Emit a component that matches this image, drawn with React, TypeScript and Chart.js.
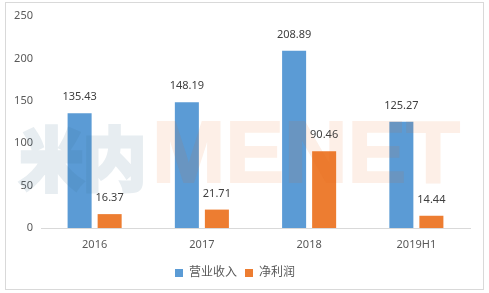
import React, { useEffect, useRef } from "react";
import { Chart, registerables } from "chart.js";

Chart.register(...registerables);

const categories = ["2016", "2017", "2018", "2019H1"];
const revenue = [135.43, 148.19, 208.89, 125.27];
const netProfit = [16.37, 21.71, 90.46, 14.44];
const seriesNames = ["营业收入", "净利润"];
const yMin = 0;
const yMax = 250;
const yStep = 50;

const FONT = "'Noto Sans', 'Noto Sans CJK SC', sans-serif";

const borderPlugin = {
  id: "outerBorder",
  beforeDraw(chart: any) {
    const ctx = chart.ctx;
    ctx.save();
    ctx.fillStyle = "#ffffff";
    ctx.fillRect(0, 0, chart.width, chart.height);
    ctx.strokeStyle = "#d9d9d9";
    ctx.lineWidth = 1;
    ctx.strokeRect(5.5, 2.5, chart.width - 11, chart.height - 6);
    ctx.restore();
  },
};

function drawWatermark(ctx: CanvasRenderingContext2D, w: number, h: number) {
  const off = document.createElement("canvas");
  off.width = w;
  off.height = h;
  const o = off.getContext("2d");
  if (!o) return;
  const baseY = 182;
  o.textBaseline = "alphabetic";
  o.textAlign = "left";
  o.font = `bold 68px 'Noto Sans CJK SC', sans-serif`;
  o.fillStyle = "rgb(60,110,140)";
  o.strokeStyle = "rgb(60,110,140)";
  o.lineWidth = 5;
  o.lineJoin = "miter";
  o.fillText("米内", 20, baseY + 3, 126);
  o.strokeText("米内", 20, baseY + 3, 126);
  o.font = `bold 88px 'Liberation Sans', Arial, sans-serif`;
  o.fillStyle = "rgb(230,100,20)";
  o.strokeStyle = "rgb(230,100,20)";
  o.lineWidth = 2;
  o.fillText("MENET", 152, baseY, 311);
  o.strokeText("MENET", 152, baseY, 311);
  // blue part and orange part with their own alpha
  ctx.save();
  ctx.globalAlpha = 0.12;
  ctx.drawImage(off, 0, 0, 150, h, 0, 0, 150, h);
  ctx.globalAlpha = 0.1;
  ctx.drawImage(off, 150, 0, w - 150, h, 150, 0, w - 150, h);
  ctx.restore();
}

const overlayPlugin = {
  id: "overlay",
  afterDatasetsDraw(chart: any) {
    const ctx = chart.ctx;
    drawWatermark(ctx, chart.width, chart.height);
    ctx.save();
    ctx.font = `11px ${FONT}`;
    ctx.fillStyle = "#404040";
    ctx.textAlign = "center";
    ctx.textBaseline = "middle";
    chart.data.datasets.forEach((ds: any, i: number) => {
      const meta = chart.getDatasetMeta(i);
      meta.data.forEach((el: any, j: number) => {
        const v = ds.data[j] as number;
        ctx.fillText(v.toFixed(2), el.x, el.y - 16);
      });
    });
    ctx.restore();
  },
};

export default function App() {
  const ref = useRef<HTMLCanvasElement | null>(null);
  useEffect(() => {
    if (!ref.current) return;
    const chart = new Chart(ref.current, {
      type: "bar",
      data: {
        labels: categories,
        datasets: [
          {
            label: seriesNames[0],
            data: revenue,
            backgroundColor: "#5b9bd5",
            categoryPercentage: 0.56,
            barPercentage: 0.8,
          },
          {
            label: seriesNames[1],
            data: netProfit,
            backgroundColor: "#ed7d31",
            categoryPercentage: 0.56,
            barPercentage: 0.8,
          },
        ],
      },
      options: {
        responsive: false,
        animation: false,
        layout: { padding: { left: 0, right: 19, top: 16, bottom: 4 } },
        plugins: {
          tooltip: { enabled: false },
          legend: {
            position: "bottom",
            labels: {
              boxWidth: 8,
              boxHeight: 8,
              padding: 8,
              color: "#595959",
              font: { family: FONT, size: 12 },
            },
          },
        },
        scales: {
          x: {
            grid: { display: false, drawTicks: false },
            border: { display: true, color: "#d9d9d9", width: 1 },
            ticks: { color: "#595959", font: { family: FONT, size: 11 }, padding: 10 },
            afterFit(scale: any) {
              scale.height = 31;
            },
          },
          y: {
            min: yMin,
            max: yMax,
            grid: { display: false, drawTicks: false },
            border: { display: false },
            ticks: {
              stepSize: yStep,
              color: "#595959",
              font: { family: FONT, size: 11 },
              padding: 8,
            },
            afterFit(scale: any) {
              scale.width = 41;
            },
          },
        },
      },
      plugins: [borderPlugin, overlayPlugin],
    });
    return () => chart.destroy();
  }, []);
  return (
    <div style={{ position: "fixed", left: 0, top: 0, width: 489, height: 293 }}>
      <canvas ref={ref} width={489} height={293} style={{ display: "block" }} />
    </div>
  );
}
